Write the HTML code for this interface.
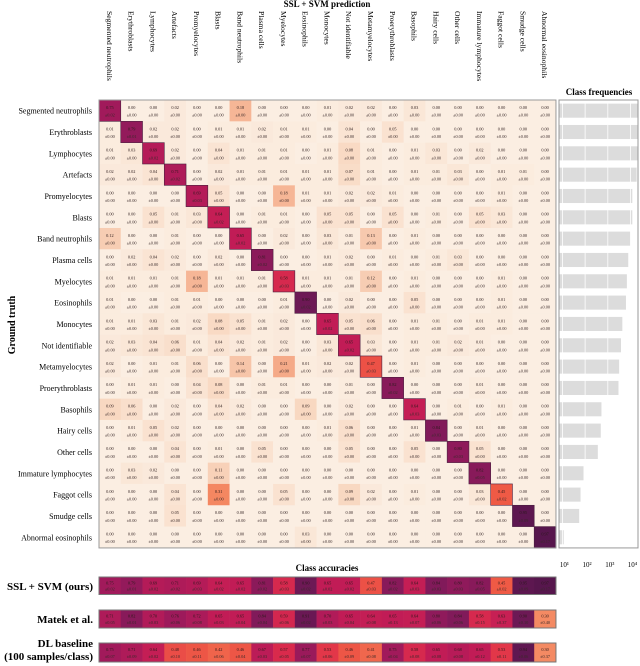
<!DOCTYPE html>
<html><head><meta charset="utf-8"><style>
body{margin:0;background:#fff;}
svg{display:block;font-family:"Liberation Serif",serif;}
</style></head><body>
<svg id="chart" width="640" height="666" viewBox="0 0 640 666" xmlns="http://www.w3.org/2000/svg">
<text x="327" y="7" font-size="9" font-weight="bold" text-anchor="middle">SSL + SVM prediction</text>
<text transform="translate(15,325) rotate(-90)" font-size="10" font-weight="bold" text-anchor="middle">Ground truth</text>
<text x="599" y="95" font-size="9" font-weight="bold" text-anchor="middle">Class frequencies</text>
<text x="327" y="571" font-size="9" font-weight="bold" text-anchor="middle">Class accuracies</text>
<g id="g"></g>
</svg>
<script>
const classes=["Segmented neutrophils","Erythroblasts","Lymphocytes","Artefacts","Promyelocytes","Blasts","Band neutrophils","Plasma cells","Myelocytes","Eosinophils","Monocytes","Not identifiable","Metamyelocytes","Proerythroblasts","Basophils","Hairy cells","Other cells","Immature lymphocytes","Faggot cells","Smudge cells","Abnormal eosinophils"];
const matrix=[
[0.75,0.00,0.00,0.02,0.00,0.00,0.18,0.00,0.00,0.00,0.01,0.02,0.02,0.00,0.03,0.00,0.00,0.00,0.00,0.00,0.00],
[0.01,0.79,0.02,0.02,0.00,0.01,0.01,0.02,0.01,0.01,0.00,0.04,0.00,0.05,0.00,0.00,0.00,0.00,0.00,0.00,0.00],
[0.01,0.03,0.69,0.02,0.00,0.04,0.01,0.01,0.01,0.00,0.01,0.08,0.01,0.00,0.01,0.03,0.00,0.02,0.00,0.00,0.00],
[0.02,0.02,0.04,0.71,0.00,0.02,0.01,0.01,0.01,0.01,0.01,0.07,0.01,0.00,0.01,0.01,0.03,0.00,0.01,0.01,0.00],
[0.00,0.00,0.00,0.00,0.69,0.05,0.00,0.00,0.18,0.01,0.01,0.02,0.02,0.01,0.00,0.00,0.00,0.00,0.01,0.00,0.00],
[0.00,0.00,0.05,0.01,0.03,0.64,0.00,0.01,0.01,0.00,0.05,0.05,0.00,0.05,0.00,0.01,0.00,0.05,0.03,0.00,0.00],
[0.12,0.00,0.00,0.01,0.00,0.00,0.65,0.00,0.02,0.00,0.03,0.01,0.13,0.00,0.01,0.00,0.00,0.00,0.00,0.00,0.00],
[0.00,0.02,0.04,0.02,0.00,0.02,0.00,0.81,0.00,0.00,0.01,0.02,0.00,0.01,0.00,0.01,0.03,0.00,0.00,0.00,0.00],
[0.01,0.01,0.01,0.01,0.18,0.01,0.01,0.01,0.58,0.01,0.01,0.01,0.12,0.00,0.01,0.00,0.00,0.00,0.01,0.00,0.00],
[0.01,0.00,0.00,0.01,0.01,0.00,0.00,0.00,0.01,0.90,0.00,0.02,0.00,0.00,0.05,0.00,0.00,0.00,0.01,0.00,0.00],
[0.01,0.01,0.03,0.01,0.02,0.08,0.05,0.01,0.02,0.00,0.65,0.05,0.06,0.00,0.01,0.01,0.00,0.01,0.01,0.00,0.00],
[0.02,0.03,0.04,0.06,0.01,0.04,0.02,0.01,0.02,0.00,0.03,0.65,0.03,0.00,0.01,0.01,0.02,0.01,0.00,0.00,0.00],
[0.02,0.00,0.01,0.01,0.06,0.00,0.14,0.00,0.21,0.01,0.02,0.02,0.47,0.00,0.01,0.00,0.00,0.00,0.00,0.00,0.00],
[0.00,0.01,0.01,0.00,0.04,0.08,0.00,0.01,0.01,0.00,0.00,0.01,0.00,0.82,0.00,0.00,0.00,0.01,0.00,0.00,0.00],
[0.09,0.06,0.00,0.02,0.00,0.04,0.02,0.00,0.00,0.09,0.00,0.02,0.00,0.00,0.64,0.00,0.01,0.00,0.01,0.00,0.00],
[0.00,0.01,0.05,0.02,0.00,0.00,0.00,0.00,0.00,0.00,0.01,0.06,0.00,0.00,0.01,0.84,0.00,0.01,0.00,0.00,0.00],
[0.00,0.00,0.00,0.04,0.00,0.01,0.00,0.05,0.00,0.00,0.00,0.05,0.00,0.00,0.05,0.00,0.80,0.05,0.00,0.00,0.00],
[0.00,0.03,0.02,0.00,0.00,0.11,0.00,0.00,0.00,0.00,0.00,0.00,0.00,0.00,0.00,0.00,0.00,0.82,0.00,0.00,0.00],
[0.00,0.00,0.00,0.04,0.00,0.31,0.00,0.00,0.05,0.00,0.00,0.09,0.02,0.00,0.01,0.00,0.00,0.03,0.45,0.00,0.00],
[0.00,0.00,0.00,0.05,0.00,0.00,0.00,0.00,0.00,0.00,0.00,0.00,0.00,0.00,0.00,0.00,0.00,0.00,0.00,0.95,0.00],
[0.00,0.00,0.00,0.00,0.00,0.00,0.00,0.00,0.00,0.03,0.00,0.00,0.00,0.00,0.00,0.00,0.00,0.00,0.00,0.00,0.97]];
const diagStd=[0.02,0.01,0.02,0.02,0.03,0.02,0.02,0.02,0.03,0.02,0.02,0.02,0.03,0.02,0.03,0.03,0.03,0.05,0.02,0.09,0.17];
const freqLog=[4.4,4.4,4.4,4.27,4.08,4.08,4.0,3.9,3.84,3.8,3.64,3.58,3.5,3.47,2.72,2.69,2.56,1.93,1.8,1.74,1.06];
const freqTicks=["10¹","10²","10³","10⁴"];
const accSSL=[0.75,0.79,0.69,0.71,0.69,0.64,0.65,0.81,0.58,0.90,0.65,0.65,0.47,0.82,0.64,0.84,0.80,0.82,0.45,0.95,0.97];
const stdSSL=[0.02,0.01,0.02,0.02,0.03,0.02,0.02,0.02,0.03,0.02,0.02,0.02,0.03,0.02,0.03,0.03,0.03,0.05,0.02,0.09,0.17];
const accMatek=[0.71,0.82,0.70,0.76,0.72,0.65,0.65,0.84,0.59,0.91,0.70,0.65,0.64,0.65,0.64,0.80,0.84,0.58,0.63,0.90,0.30];
const stdMatek=[0.05,0.01,0.03,0.06,0.08,0.03,0.04,0.04,0.06,0.02,0.03,0.04,0.08,0.13,0.07,0.06,0.06,0.15,0.37,0.10,0.40];
const accDL=[0.75,0.71,0.64,0.48,0.46,0.42,0.46,0.67,0.57,0.77,0.53,0.46,0.41,0.75,0.58,0.65,0.68,0.65,0.53,0.94,0.30];
const stdDL=[0.07,0.09,0.02,0.10,0.11,0.06,0.04,0.03,0.05,0.07,0.06,0.09,0.08,0.04,0.08,0.08,0.08,0.12,0.11,0.06,0.37];

const NS="http://www.w3.org/2000/svg";
const g=document.getElementById('g');
const X0=99,CW=21.76,Y0=100,RH=21.33;
const xCell=i=>X0+i*CW, yCell=j=>Y0+j*RH;
const stops=[[0,[251,238,226]],[0.1,[248,213,189]],[0.2,[245,174,140]],[0.3,[244,138,99]],[0.45,[239,90,69]],[0.55,[223,46,74]],[0.65,[193,28,86]],[0.75,[161,26,91]],[0.85,[125,26,90]],[0.95,[93,23,80]],[1,[79,21,72]]];
function col(v){for(let k=1;k<stops.length;k++){if(v<=stops[k][0]){const a=stops[k-1],b=stops[k],t=(v-a[0])/(b[0]-a[0]);return 'rgb('+a[1].map((c,i)=>Math.round(c+(b[1][i]-c)*t)).join(',')+')';}}return 'rgb(79,21,72)';}
function el(tag,attrs,parent){const e=document.createElementNS(NS,tag);for(const k in attrs)e.setAttribute(k,attrs[k]);(parent||g).appendChild(e);return e;}
function cellText(x,y,w,h,v,s,parent){
  const t1=el('text',{x:x+w/2,y:y+h*0.42,'font-size':4.3,'text-anchor':'middle',fill:'#2a1a1a'},parent);t1.textContent=v.toFixed(2);
  
  
  const t2=el('text',{x:x+w/2,y:y+h*0.78,'font-size':4.3,'text-anchor':'middle',fill:'#3a2a2a'},parent);t2.textContent='±'+s.toFixed(2);
  
  
}
// column labels
classes.forEach((c,i)=>{
  const t=el('text',{transform:`translate(${xCell(i)+CW/2-3},11) rotate(90)`,'font-size':7.6});
  t.textContent=c;
  
  
  const r=el('text',{x:92,y:yCell(i)+RH/2+3,'font-size':8,'text-anchor':'end'});
  r.textContent=c;
  
  
});
// matrix cells
matrix.forEach((row,j)=>row.forEach((v,i)=>{
  const r=el('rect',{x:xCell(i),y:yCell(j),width:CW+0.3,height:RH+0.3,fill:col(v)});
  
  
  cellText(xCell(i),yCell(j),CW,RH,v,i===j?diagStd[j]:0,g);
}));
matrix.forEach((row,j)=>{const r=el('rect',{x:xCell(j),y:yCell(j),width:CW,height:RH,fill:'none',stroke:'#4a2040','stroke-width':0.6});
  
  });
const fr=el('rect',{x:X0,y:Y0,width:CW*21,height:RH*21,fill:'none',stroke:'#999','stroke-width':1});


// frequency panel
const FX0=559,FX1=638,L0=0.85,DEC=22.7;
const fx=l=>FX0+(l-L0)*DEC;
const fg=el('g',{});


el('clipPath',{id:'fc'},fg).appendChild(document.createElementNS(NS,'rect'));
const cr=fg.querySelector('clipPath rect');cr.setAttribute('x',FX0);cr.setAttribute('y',Y0);cr.setAttribute('width',FX1-FX0);cr.setAttribute('height',RH*21);
const bars=el('g',{'clip-path':'url(#fc)'},fg);
freqLog.forEach((l,j)=>{
  const b=el('rect',{x:FX0,y:yCell(j)+RH*0.17,width:Math.max(0,fx(l)-FX0),height:RH*0.66,fill:'#dcdcdc'},bars);
  
  
});
freqTicks.forEach((t,k)=>{
  const x=fx(k+1);
  el('line',{x1:x,x2:x,y1:Y0,y2:Y0+RH*21,stroke:'#fff','stroke-width':0.8},bars);
  const tx=el('text',{x:x+2,y:567,'font-size':7,'text-anchor':'middle'},fg);tx.textContent=t;
  
  
});
el('rect',{x:FX0,y:Y0,width:FX1-FX0,height:RH*21,fill:'none',stroke:'#999','stroke-width':1},fg);
// accuracy rows
const accRows=[[accSSL,stdSSL,577,17.5,["SSL + SVM (ours)"]],[accMatek,stdMatek,610,18,["Matek et al."]],[accDL,stdDL,643,19,["DL baseline","(100 samples/class)"]]];
accRows.forEach(([acc,std,y,h,labels],ri)=>{
  acc.forEach((v,i)=>{
    const r=el('rect',{x:xCell(i),y:y,width:CW+0.3,height:h,fill:col(v)});
    
    
    cellText(xCell(i),y,CW,h,v,std[i],g);
  });
  const f=el('rect',{x:X0,y:y,width:CW*21,height:h,fill:'none',stroke:'#777','stroke-width':1});
  
  
  labels.forEach((l,k)=>{
    const ty=labels.length===1?y+h/2+4:y+4+k*13;
    const t=el('text',{x:93,y:ty,'font-size':11,'font-weight':'bold','text-anchor':'end'});t.textContent=l;
    
    
  });
});
</script>
</body></html>
